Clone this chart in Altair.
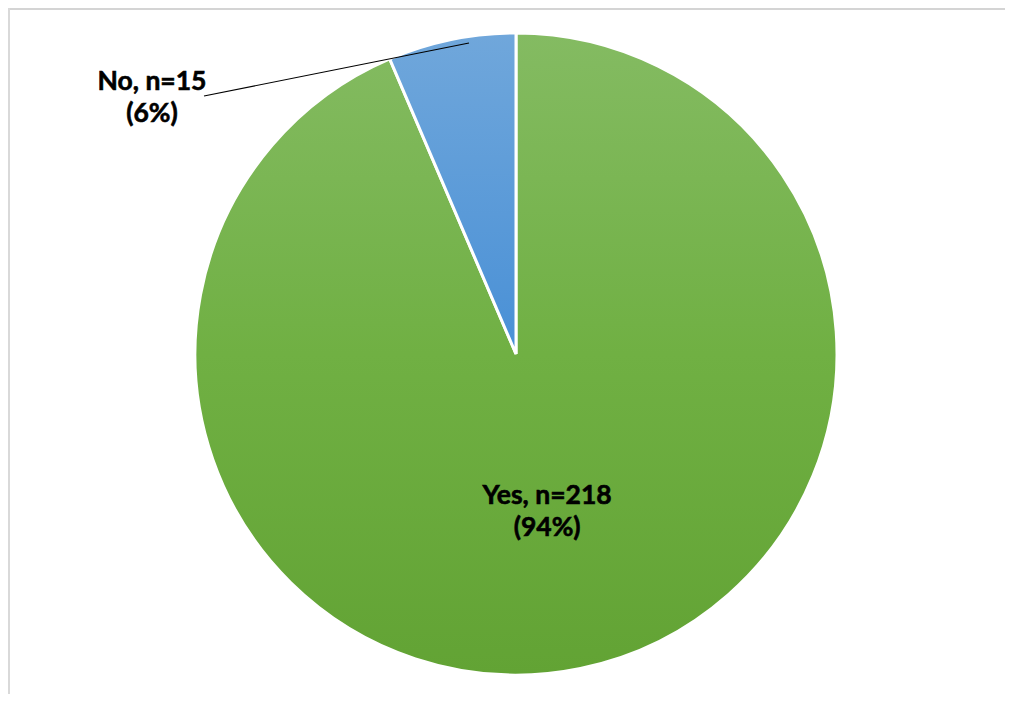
import altair as alt
import pandas as pd

# ---- data ----
categories = ["Yes", "No"]
counts = [218, 15]
percents = ["94%", "6%"]
order = [0, 1]

total = sum(counts)
labels = [f"{c}, n={n}\n({p})" for c, n, p in zip(categories, counts, percents)]
df = pd.DataFrame({"cat": categories, "n": counts, "label": labels, "order": order})

W, H = 997, 686
CX, CY = 508, 346
R = 321

theta_scale = alt.Scale(domain=[0, total])

green = alt.Gradient(
    gradient="linear", x1=0, y1=0, x2=0, y2=1,
    stops=[alt.GradientStop(offset=0, color="#84BB62"),
           alt.GradientStop(offset=0.5, color="#70B043"),
           alt.GradientStop(offset=1, color="#62A334")],
)
blue = alt.Gradient(
    gradient="linear", x1=0, y1=0, x2=0, y2=1,
    stops=[alt.GradientStop(offset=0, color="#70A7DB"),
           alt.GradientStop(offset=1, color="#4990D6")],
)

base = alt.Chart(df).transform_stack(
    stack="n", groupby=[], as_=["s0", "s1"], sort=[alt.SortField("order")]
).transform_calculate(mid="(datum.s0 + datum.s1) / 2")

def slice_layer(cat, fill):
    return base.transform_filter(alt.datum.cat == cat).mark_arc(
        radius=R, fill=fill, stroke="white", strokeWidth=3
    ).encode(
        theta=alt.Theta("s0:Q", scale=theta_scale),
        theta2="s1:Q",
        x=alt.value(CX),
        y=alt.value(CY),
    )

yes_arc = slice_layer("Yes", green)
no_arc = slice_layer("No", blue)

text_props = dict(font="Lato", fontSize=26.5, fontWeight="bold", color="#000000",
                  align="center", baseline="middle", lineBreak="\n", lineHeight=32,
                  stroke="#000000", strokeWidth=0.6)

yes_text = base.transform_filter(alt.datum.cat == "Yes").mark_text(**text_props).encode(
    theta=alt.Theta("mid:Q", scale=theta_scale),
    radius=alt.value(145),
    x=alt.value(CX + 2),
    y=alt.value(CY),
    text="label:N",
)

no_text = base.transform_filter(alt.datum.cat == "No").mark_text(**text_props).encode(
    x=alt.value(144),
    y=alt.value(74),
    text="label:N",
)

leader = alt.Chart(pd.DataFrame({"k": [0]})).mark_rule(color="#000000", strokeWidth=1.2).encode(
    x=alt.value(196), y=alt.value(88), x2=alt.value(461), y2=alt.value(35)
)

frame_top = alt.Chart(pd.DataFrame({"k": [0]})).mark_rule(color="#D4D4D4", strokeWidth=2).encode(
    x=alt.value(0), x2=alt.value(W), y=alt.value(1)
)
frame_left = alt.Chart(pd.DataFrame({"k": [0]})).mark_rule(color="#D9D9D9", strokeWidth=2).encode(
    x=alt.value(1), y=alt.value(0), y2=alt.value(H)
)

chart = alt.layer(frame_top, frame_left, yes_arc, no_arc, leader, yes_text, no_text).properties(
    width=W, height=H, padding=0, autosize=alt.AutoSizeParams(type="none"),
    background="white",
).configure_view(stroke="transparent")

chart.save("out.html", embed_options={"renderer": "svg", "actions": False})
